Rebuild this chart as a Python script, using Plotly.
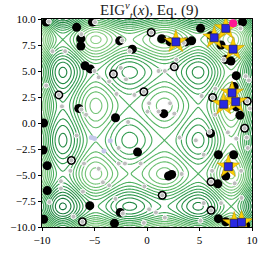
import numpy as np
import plotly.graph_objects as go

# ---- surface parameters (objective shown as contour lines) ----
grid_n = 241
amp_base = 1.0
amp_growth = 0.03
contour_start, contour_end, contour_step = -7.5, 7.5, 0.625

# ---- observed points ----
black_x = [-9.6, -6.7, -5.2, -6.3, -6.3, -2.6, -1.4, -5.9, -5.4, -3.2, -0.3, -8.4, -6.5, -3.0, -9.85,
           -9.9, -7.2, -9.5, -9.5, -9.85, -6.15, -5.45, -2.55, -3.1, -0.9, 2.05, 2.35, 1.45,
           6.05, 9.3, 6.8, 8.25, 7.5, 6.1, 6.75, 6.1, 6.8, 7.5, 9.4,
           8.85, 9.55, 6.25, 8.5, 8.3, 8.5, 7.5, 8.0, 1.6, 2.6, 0.4, 1.4, 2.2, 3.7, 4.25,
           5.1, 6.1, 7.05, 9.1]
black_y = [9.7, 9.2, 9.7, 8.1, 7.4, 7.9, 7.1, 5.5, 5.2, 4.7, 3.0, 2.7, 1.4, 0.5, 0.0,
           -2.6, -3.6, -4.1, -6.5, -9.25, -9.5, -7.95, -8.6, -9.65, -2.8, -5.1, -4.95, -6.95,
           -1.0, -0.5, -3.05, -3.05, -5.1, -5.65, -5.85, -8.4, -9.2, -9.5, -9.8,
           0.75, 2.1, 2.45, 1.55, 3.5, 4.55, 6.1, 5.95, 0.9, 5.4, 8.7, 8.1, 7.8, 7.8, 7.9,
           9.1, 8.4, 7.5, 9.7]

gray_x = [-3.2, -0.3, -8.4, -7.2, -6.15, 1.45, 9.3, 6.1, 6.1, 9.55, 6.25, 2.6, 0.4,
          -9.35, -4.95, -2.35, -6.25, 3.5, 5.95, 7.3,
          -6.25, -7.8, -9.0, -5.0, -4.6, -3.6, -2.0, -2.5, -1.65, -1.2, -2.9, -9.6, -8.1, -5.8, -1.8,
          2.8, 1.1, 1.7, 6.5, 9.4, 9.7, 0.2, 1.1, 2.2, 2.6, 0.05, 5.2, 6.5, 9.8, 8.9,
          -6.7, -2.7, -6.0, -4.6, -4.2, -3.6, -2.7, -2.1, -0.6, -3.0, -2.3, 0.2, 0.85, 1.7, -0.3,
          -9.3, -8.2, -7.0, -7.3, -8.2, -6.1, -0.25,
          3.1, 4.65, 5.4, 6.2, 8.35, 8.96, 9.6, 9.5, 3.3, 5.1, 5.4, 7.05, 9.0, 7.7, 8.5]
gray_y = [4.7, 3.0, 2.7, -3.6, -9.5, -6.95, -0.5, -5.65, -8.4, 2.1, 2.45, 5.4, 8.7,
          9.75, 9.7, 7.95, 1.3, 7.7, -0.85, 6.1,
          8.55, 6.9, 6.9, 5.0, 4.4, 4.0, 4.2, 5.3, 6.9, 2.7, 2.8, 3.6, 1.6, 0.8, 0.1,
          6.1, 5.0, 5.0, 3.3, 4.5, 4.1, 1.9, 1.1, 1.9, 0.9, 1.1, 2.6, 0.8, 1.4, 9.1,
          -1.2, -2.4, -3.9, -4.4, -5.7, -6.0, -3.9, -3.9, -3.9, -7.3, -8.7, -8.3, -8.6, -9.1, -9.6,
          -7.6, -6.3, -9.0, -4.6, -5.6, -6.6, -6.1,
          -1.4, -1.67, -3.05, -4.6, -5.8, -4.6, -2.4, -1.4, -4.9, -9.4, -7.7, -7.7, -7.2, -0.9, -1.5]

lav_x = [-5.3, -5.0, -4.1, -3.5]
lav_y = [-1.4, -1.5, -2.7, -1.7]

star_x = [2.75, 6.4, 7.5, 8.2, 8.1, 7.3, 8.45, 7.75, 8.3, 9.0]
star_y = [7.8, 8.2, 9.1, 7.1, 2.9, 1.8, 2.05, -4.2, -9.65, -9.55]

pink_x = [8.2]
pink_y = [9.6]

x_ticks = [-10, -5, 0, 5, 10]
y_ticks = [10.0, 7.5, 5.0, 2.5, 0.0, -2.5, -5.0, -7.5, -10.0]

# ---- surface ----
gx = np.linspace(-10, 10, grid_n)
gy = np.linspace(-10, 10, grid_n)
X, Y = np.meshgrid(gx, gy)
amp = lambda t: amp_base + amp_growth * t ** 2
Z = -(amp(X) * np.sin(X) + amp(Y) * np.sin(Y)) + 1e-6

greens = [[0.0, 'rgb(175,222,168)'], [0.25, 'rgb(135,205,130)'], [0.45, 'rgb(88,182,100)'],
          [0.62, 'rgb(52,158,82)'], [0.8, 'rgb(26,128,60)'], [1.0, 'rgb(0,88,40)']]

fig = go.Figure()
fig.add_trace(go.Contour(
    x=gx, y=gy, z=Z, colorscale=greens, showscale=False,
    contours=dict(coloring='lines', start=contour_start, end=contour_end, size=contour_step),
    line=dict(width=1.1), hoverinfo='skip'))

fig.add_trace(go.Scatter(x=black_x, y=black_y, mode='markers',
                         marker=dict(color='black', size=9, line=dict(width=0))))
fig.add_trace(go.Scatter(x=gray_x, y=gray_y, mode='markers',
                         marker=dict(color='#bdbdbd', size=5, line=dict(color='white', width=1))))
fig.add_trace(go.Scatter(x=lav_x, y=lav_y, mode='markers',
                         marker=dict(color='#c5c8ea', size=5, line=dict(width=0))))
fig.add_trace(go.Scatter(x=star_x, y=star_y, mode='markers',
                         marker=dict(symbol='star', color='#FFD200', size=17,
                                     line=dict(color='#c89a00', width=0.6))))
fig.add_trace(go.Scatter(x=star_x, y=star_y, mode='markers',
                         marker=dict(symbol='square', color='#2828e0', size=8,
                                     line=dict(color='#101050', width=0.6))))
fig.add_trace(go.Scatter(x=pink_x, y=pink_y, mode='markers',
                         marker=dict(color='#ff1493', size=8, line=dict(width=0))))

font_family = 'Liberation Serif, DejaVu Serif, serif'
fig.update_layout(
    width=268, height=256, margin=dict(l=41, r=10, t=19, b=21),
    paper_bgcolor='white', plot_bgcolor='white', showlegend=False,
    font=dict(family=font_family, size=11, color='black'),
    title=dict(text='EIG<sup><i>v</i></sup><sub><i>t</i></sub>(<i>x</i>), Eq. (9)',
               x=0.557, xanchor='center', y=0.96, yanchor='middle',
               font=dict(family=font_family, size=15, color='#222')),
)
fig.update_xaxes(range=[-10, 10], tickvals=x_ticks, ticktext=[f'{v}'.replace('-', '\u2212') for v in x_ticks],
                 showgrid=False, zeroline=False, showline=True, linecolor='black', linewidth=1,
                 mirror=True, ticks='outside', ticklen=3, tickcolor='black')
fig.update_yaxes(range=[-10, 10], tickvals=y_ticks, ticktext=[f'{v:.1f}'.replace('-', '\u2212') for v in y_ticks],
                 showgrid=False, zeroline=False, showline=True, linecolor='black', linewidth=1,
                 mirror=True, ticks='outside', ticklen=3, tickcolor='black')

fig.write_html("out.html", config={'displayModeBar': False},
               post_script="document.body.style.margin='0';document.body.style.overflow='hidden';")
